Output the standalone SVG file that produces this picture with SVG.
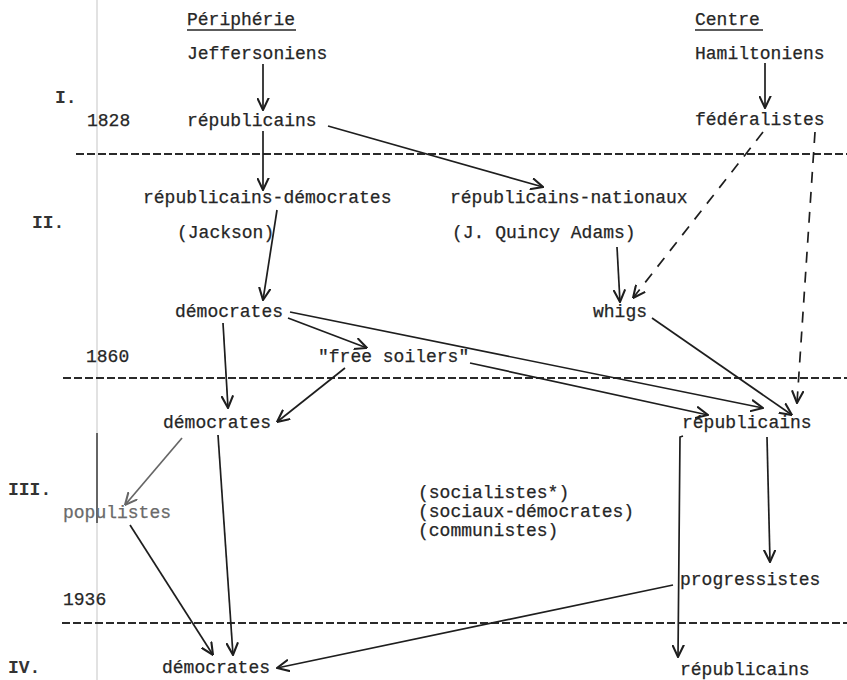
<svg xmlns="http://www.w3.org/2000/svg" width="847" height="680" viewBox="0 0 847 680">
<defs>
<marker id="ah" viewBox="0 0 10 10" refX="9.5" refY="5" markerWidth="13" markerHeight="13" markerUnits="userSpaceOnUse" orient="auto">
<path d="M0,0.5 L9.5,5 L0,9.5" fill="none" stroke="#1e1e1e" stroke-width="1.6"/>
</marker>
<marker id="ahg" viewBox="0 0 10 10" refX="9.5" refY="5" markerWidth="13" markerHeight="13" markerUnits="userSpaceOnUse" orient="auto">
<path d="M0,0.5 L9.5,5 L0,9.5" fill="none" stroke="#666" stroke-width="1.6"/>
</marker>
</defs>
<style>
text{font-family:"Liberation Mono","DejaVu Sans Mono",monospace;font-size:18px;fill:#262626;stroke:#262626;stroke-width:0.25}
.num{font-weight:bold;fill:#333;stroke:none}
.gray{fill:#6a6a6a;stroke:#6a6a6a}
.sep{stroke:#2a2a2a;stroke-width:2;stroke-dasharray:8 3;fill:none}
.c{stroke:#1e1e1e;stroke-width:1.7;fill:none;marker-end:url(#ah)}
.cd{stroke:#1e1e1e;stroke-width:1.7;fill:none;stroke-dasharray:11 9;marker-end:url(#ah)}
.cg{stroke:#666;stroke-width:1.7;fill:none;marker-end:url(#ahg)}
</style>
<rect width="847" height="680" fill="#ffffff"/>
<g id="margin">
<line x1="97" y1="0" x2="97" y2="680" stroke="#e2e2e2" stroke-width="2"/>
<line x1="97" y1="433" x2="97" y2="523" stroke="#666" stroke-width="2"/>
</g>
<g id="separators">
<line class="sep" x1="76" y1="154" x2="847" y2="154"/>
<line class="sep" x1="63" y1="378" x2="847" y2="378"/>
<line class="sep" x1="62" y1="623" x2="847" y2="623"/>
</g>
<g id="labels">
<text class="num" x="55" y="103">I.</text>
<text class="num" x="32" y="228">II.</text>
<text class="num" x="8" y="495">III.</text>
<text class="num" x="8" y="673">IV.</text>
<text x="87" y="126">1828</text>
<text x="86" y="362">1860</text>
<text x="63" y="605">1936</text>
</g>
<g id="col-peripherie">
<text x="187" y="25">Périphérie</text>
<line x1="187" y1="30" x2="296" y2="30" stroke="#262626" stroke-width="1.5"/>
</g>
<g id="col-centre">
<text x="695" y="25">Centre</text>
<line x1="695" y1="30" x2="763" y2="30" stroke="#262626" stroke-width="1.5"/>
</g>
<g id="jeffersoniens"><text x="187" y="59">Jeffersoniens</text></g>
<g id="hamiltoniens"><text x="695" y="59">Hamiltoniens</text></g>
<g id="republicains-1"><text x="187" y="126">républicains</text></g>
<g id="federalistes"><text x="695" y="125">fédéralistes</text></g>
<g id="republicains-democrates"><text x="143" y="203">républicains-démocrates</text><text x="177" y="238">(Jackson)</text></g>
<g id="republicains-nationaux"><text x="450" y="203">républicains-nationaux</text><text x="452" y="238">(J. Quincy Adams)</text></g>
<g id="democrates-2"><text x="175" y="317">démocrates</text></g>
<g id="whigs"><text x="593" y="317">whigs</text></g>
<g id="free-soilers"><text x="318" y="362">"free soilers"</text></g>
<g id="democrates-3"><text x="163" y="428">démocrates</text></g>
<g id="republicains-3"><text x="682" y="428">républicains</text></g>
<g id="populistes"><text class="gray" x="63" y="518">populistes</text></g>
<g id="minor-parties"><text x="418" y="498">(socialistes*)</text><text x="418" y="517">(sociaux-démocrates)</text><text x="418" y="536">(communistes)</text></g>
<g id="progressistes"><text x="680" y="585">progressistes</text></g>
<g id="democrates-4"><text x="162" y="673">démocrates</text></g>
<g id="republicains-4"><text x="680" y="675">républicains</text></g>
<g id="connectors">
<line class="c" x1="263" y1="64" x2="263" y2="110"/>
<line class="c" x1="765" y1="63" x2="765" y2="108"/>
<line class="c" x1="263" y1="131" x2="263" y2="190"/>
<line class="c" x1="328" y1="126" x2="543" y2="187"/>
<line class="cd" x1="763" y1="132" x2="633" y2="298"/>
<line class="cd" x1="815" y1="132" x2="797" y2="403"/>
<line class="c" x1="277" y1="210" x2="263" y2="300"/>
<line class="c" x1="617" y1="247" x2="620" y2="302"/>
<line class="c" x1="290" y1="312" x2="763" y2="408"/>
<line class="c" x1="288" y1="318" x2="367" y2="348"/>
<line class="c" x1="223" y1="323" x2="228" y2="408"/>
<line class="c" x1="652" y1="318" x2="792" y2="415"/>
<line class="c" x1="345" y1="368" x2="277" y2="422"/>
<line class="c" x1="470" y1="363" x2="708" y2="415"/>
<line class="cg" x1="182" y1="438" x2="125" y2="505"/>
<line class="c" x1="218" y1="435" x2="233" y2="655"/>
<line class="c" x1="130" y1="525" x2="213" y2="655"/>
<path class="c" d="M683,436 L680,437 L678,657"/>
<line class="c" x1="767" y1="437" x2="770" y2="562"/>
<line class="c" x1="673" y1="585" x2="277" y2="668"/>
</g>
</svg>
